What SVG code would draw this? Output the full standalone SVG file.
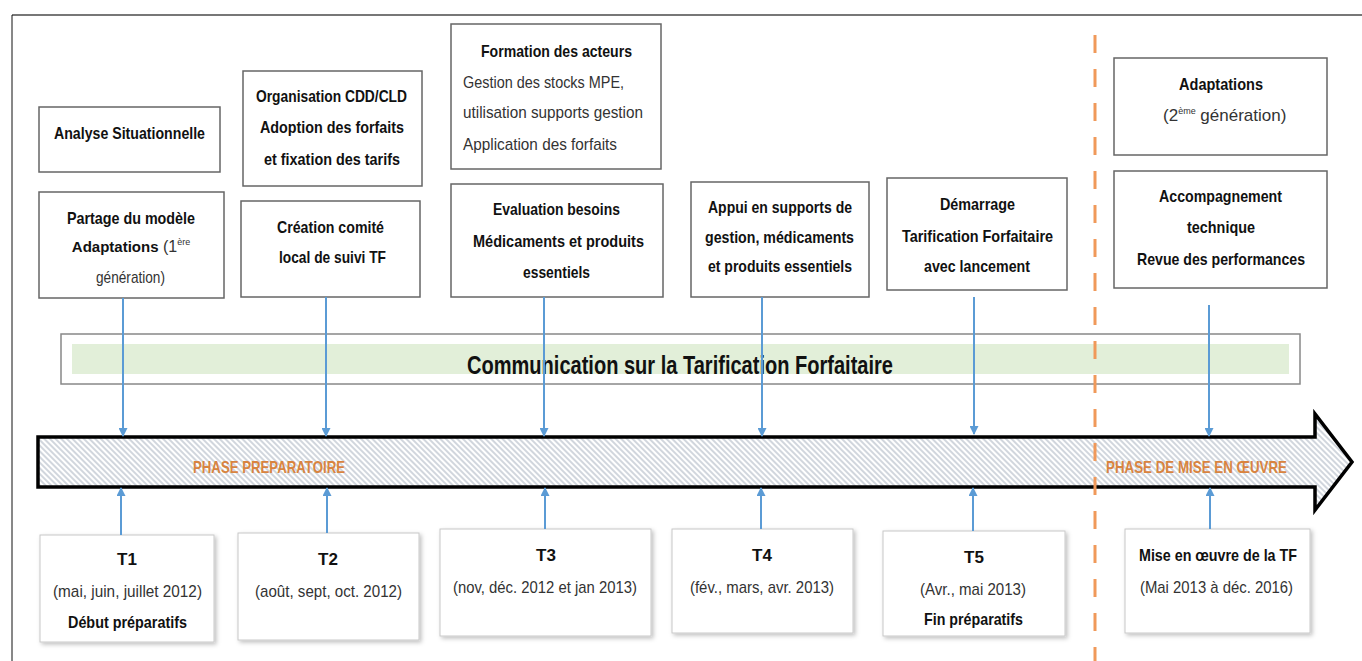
<svg xmlns="http://www.w3.org/2000/svg" width="1362" height="661" viewBox="0 0 1362 661">
<defs>
<style>
text{font-family:"Liberation Sans",Arial,sans-serif;}
.b{font-size:17px;font-weight:bold;fill:#111;}
.r{font-size:17px;fill:#333;}
.m{text-anchor:middle;}
.tb{fill:#fff;stroke:#666;stroke-width:1.5;}
.bb{fill:#fff;stroke:#c8c8c8;stroke-width:1;filter:url(#sh);}
.conn{stroke:#5b9bd5;stroke-width:2;fill:none;marker-end:url(#ah);}
.ph{font-size:17px;font-weight:bold;fill:#d9843f;}
</style>
<marker id="ah" viewBox="0 0 10 10" refX="9" refY="5" markerWidth="10" markerHeight="9" markerUnits="userSpaceOnUse" orient="auto">
<path d="M0,0 L10,5 L0,10 z" fill="#5b9bd5"/>
</marker>
<pattern id="hatch" width="4" height="4" patternUnits="userSpaceOnUse" patternTransform="rotate(-45)">
<rect width="4" height="4" fill="#ffffff"/>
<line x1="1" y1="0" x2="1" y2="4" stroke="#a4aebc" stroke-width="1"/>
</pattern>
<filter id="sh" x="-10%" y="-10%" width="125%" height="130%">
<feDropShadow dx="2" dy="2" stdDeviation="2" flood-color="#000" flood-opacity="0.25"/>
</filter>
</defs>
<rect width="1362" height="661" fill="#fff"/>
<g id="frame">
<line x1="12" y1="15" x2="1362" y2="15" stroke="#777" stroke-width="2"/>
<line x1="12" y1="15" x2="12" y2="661" stroke="#111" stroke-width="1"/>
</g>

<g id="communication">
<rect x="61" y="334" width="1239" height="50" fill="#fff" stroke="#888" stroke-width="1.5"/>
<rect x="72" y="344" width="1217" height="30" fill="#e2efd9"/>
<text x="680" y="374" class="m" font-size="25" font-weight="bold" fill="#111" textLength="426" lengthAdjust="spacingAndGlyphs">Communication sur la Tarification Forfaitaire</text>
</g>

<g id="timeline">
<path d="M38,437 H1315 V414 L1352,462 L1315,510 V487 H38 Z" fill="url(#hatch)" stroke="#000" stroke-width="3.5" stroke-linejoin="miter"/>
<text x="269" y="473" class="ph m" textLength="152" lengthAdjust="spacingAndGlyphs">PHASE PREPARATOIRE</text>
<text x="1196.5" y="473" class="ph m" textLength="181" lengthAdjust="spacingAndGlyphs">PHASE DE MISE EN ŒUVRE</text>
</g>

<g id="phase-separator">
<line x1="1095" y1="35" x2="1095" y2="661" stroke="#f0995a" stroke-width="3" stroke-dasharray="18 16"/>
</g>

<g id="analyse">
<rect class="tb" x="39" y="107" width="181" height="65"/>
<text x="129.5" y="139" class="b m" textLength="151" lengthAdjust="spacingAndGlyphs">Analyse Situationnelle</text>
</g>
<g id="partage">
<rect class="tb" x="39" y="192" width="185" height="106"/>
<text x="131" y="224" class="b m" textLength="128" lengthAdjust="spacingAndGlyphs">Partage du modèle</text>
<text x="131" y="252" class="m"><tspan font-size="15" font-weight="bold" fill="#111">Adaptations</tspan><tspan font-size="16" fill="#333"> (1</tspan><tspan dy="-7" font-size="9" fill="#333">ère</tspan></text>
<text x="130.5" y="283" class="r m" textLength="69" lengthAdjust="spacingAndGlyphs">génération)</text>
</g>
<g id="organisation">
<rect class="tb" x="243" y="71" width="179" height="115"/>
<text x="331.5" y="102" class="b m" textLength="151" lengthAdjust="spacingAndGlyphs">Organisation CDD/CLD</text>
<text x="332" y="133" class="b m" textLength="144" lengthAdjust="spacingAndGlyphs">Adoption des forfaits</text>
<text x="332" y="165" class="b m" textLength="136" lengthAdjust="spacingAndGlyphs">et fixation des tarifs</text>
</g>
<g id="creation">
<rect class="tb" x="241" y="201" width="179" height="96"/>
<text x="330.5" y="233" class="b m" textLength="107" lengthAdjust="spacingAndGlyphs">Création comité</text>
<text x="332.5" y="263" class="b m" textLength="107" lengthAdjust="spacingAndGlyphs">local de suivi TF</text>
</g>
<g id="formation">
<rect class="tb" x="451" y="24" width="210" height="145"/>
<text x="556.5" y="57" class="b m" textLength="151" lengthAdjust="spacingAndGlyphs">Formation des acteurs</text>
<text x="463" y="88" class="r" textLength="161" lengthAdjust="spacingAndGlyphs">Gestion des stocks MPE,</text>
<text x="463" y="118" class="r" textLength="180" lengthAdjust="spacingAndGlyphs">utilisation supports gestion</text>
<text x="463" y="150" class="r" textLength="154" lengthAdjust="spacingAndGlyphs">Application des forfaits</text>
</g>
<g id="evaluation">
<rect class="tb" x="451" y="184" width="212" height="113"/>
<text x="556.5" y="215" class="b m" textLength="127" lengthAdjust="spacingAndGlyphs">Evaluation besoins</text>
<text x="558.5" y="247" class="b m" textLength="171" lengthAdjust="spacingAndGlyphs">Médicaments et produits</text>
<text x="556.5" y="278" class="b m" textLength="67" lengthAdjust="spacingAndGlyphs">essentiels</text>
</g>
<g id="appui">
<rect class="tb" x="691" y="182" width="178" height="115"/>
<text x="780" y="213" class="b m" textLength="144" lengthAdjust="spacingAndGlyphs">Appui en supports de</text>
<text x="779.5" y="243" class="b m" textLength="149" lengthAdjust="spacingAndGlyphs">gestion, médicaments</text>
<text x="780" y="272" class="b m" textLength="144" lengthAdjust="spacingAndGlyphs">et produits essentiels</text>
</g>
<g id="demarrage">
<rect class="tb" x="887" y="178" width="180" height="112"/>
<text x="977.5" y="210" class="b m" textLength="75" lengthAdjust="spacingAndGlyphs">Démarrage</text>
<text x="977.5" y="242" class="b m" textLength="151" lengthAdjust="spacingAndGlyphs">Tarification Forfaitaire</text>
<text x="977" y="272" class="b m" textLength="106" lengthAdjust="spacingAndGlyphs">avec lancement</text>
</g>
<g id="adaptations2">
<rect class="tb" x="1114" y="58" width="213" height="97"/>
<text x="1221" y="90" class="b m" textLength="84" lengthAdjust="spacingAndGlyphs">Adaptations</text>
<text x="1163" y="121" class="r">(2<tspan dy="-7" font-size="9">ème</tspan><tspan dy="7"> génération)</tspan></text>
</g>
<g id="accompagnement">
<rect class="tb" x="1114" y="171" width="213" height="117"/>
<text x="1220.5" y="202" class="b m" textLength="123" lengthAdjust="spacingAndGlyphs">Accompagnement</text>
<text x="1221" y="233" class="b m" textLength="68" lengthAdjust="spacingAndGlyphs">technique</text>
<text x="1221" y="265" class="b m" textLength="168" lengthAdjust="spacingAndGlyphs">Revue des performances</text>
</g>

<g id="t1">
<rect class="bb" x="40" y="535" width="174" height="107"/>
<text x="127" y="565" class="b m">T1</text>
<text x="127.5" y="597" class="r m" textLength="149" lengthAdjust="spacingAndGlyphs">(mai, juin, juillet 2012)</text>
<text x="127.5" y="628" class="b m" textLength="119" lengthAdjust="spacingAndGlyphs">Début préparatifs</text>
</g>
<g id="t2">
<rect class="bb" x="238" y="533" width="181" height="107"/>
<text x="328" y="565" class="b m">T2</text>
<text x="328.5" y="597" class="r m" textLength="147" lengthAdjust="spacingAndGlyphs">(août, sept, oct. 2012)</text>
</g>
<g id="t3">
<rect class="bb" x="440" y="529" width="211" height="107"/>
<text x="546" y="561" class="b m">T3</text>
<text x="545" y="593" class="r m" textLength="184" lengthAdjust="spacingAndGlyphs">(nov, déc. 2012 et jan 2013)</text>
</g>
<g id="t4">
<rect class="bb" x="672" y="529" width="181" height="104"/>
<text x="762" y="561" class="b m">T4</text>
<text x="762" y="593" class="r m" textLength="144" lengthAdjust="spacingAndGlyphs">(fév., mars, avr. 2013)</text>
</g>
<g id="t5">
<rect class="bb" x="883" y="531" width="182" height="105"/>
<text x="974" y="563" class="b m">T5</text>
<text x="973" y="595" class="r m" textLength="106" lengthAdjust="spacingAndGlyphs">(Avr., mai 2013)</text>
<text x="973.5" y="625" class="b m" textLength="99" lengthAdjust="spacingAndGlyphs">Fin préparatifs</text>
</g>
<g id="mise-en-oeuvre">
<rect class="bb" x="1125" y="529" width="185" height="104"/>
<text x="1218" y="561" class="b m" textLength="158" lengthAdjust="spacingAndGlyphs">Mise en œuvre de la TF</text>
<text x="1216.5" y="593" class="r m" textLength="153" lengthAdjust="spacingAndGlyphs">(Mai 2013 à déc. 2016)</text>
</g>

<g id="connectors">
<line class="conn" x1="123" y1="298" x2="123" y2="436"/>
<line class="conn" x1="326" y1="297" x2="326" y2="436"/>
<line class="conn" x1="544" y1="297" x2="544" y2="436"/>
<line class="conn" x1="762" y1="297" x2="762" y2="436"/>
<line class="conn" x1="974" y1="297" x2="974" y2="434"/>
<line class="conn" x1="1209" y1="305" x2="1209" y2="436"/>
<line class="conn" x1="121" y1="535" x2="121" y2="488"/>
<line class="conn" x1="327" y1="533" x2="327" y2="488"/>
<line class="conn" x1="545" y1="529" x2="545" y2="488"/>
<line class="conn" x1="761" y1="529" x2="761" y2="488"/>
<line class="conn" x1="973" y1="531" x2="973" y2="488"/>
<line class="conn" x1="1210" y1="529" x2="1210" y2="488"/>
</g>
</svg>
